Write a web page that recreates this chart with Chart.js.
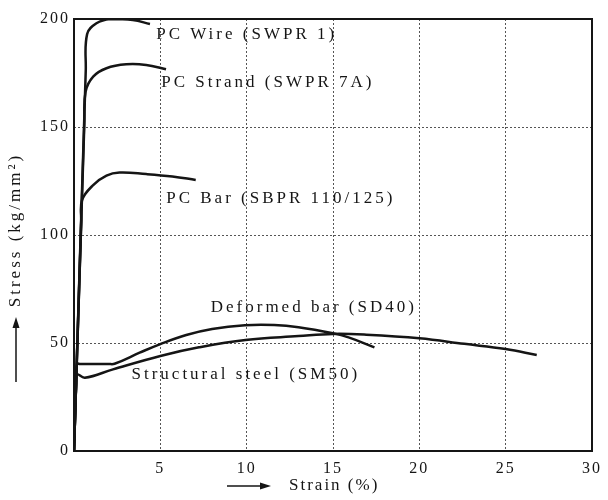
<!DOCTYPE html>
<html>
<head>
<meta charset="utf-8">
<script src="https://cdn.jsdelivr.net/npm/chart.js@4"></script>
<style>
  html, body { margin: 0; padding: 0; background: #fff; }
  #wrap { width: 608px; height: 500px; }
</style>
</head>
<body>
<div id="wrap"><canvas id="ssChart" width="608" height="500"></canvas></div>
<script>
// ── dados (deformação % × tensão kg/mm²) ──────────────────────
const wireStrain   = [0, 0.68, 0.76, 1.3, 2.1, 3.4, 4.4];
const wireStress   = [0, 176, 193, 198, 200, 199.5, 197.7];

const strandStrain = [0, 0.6, 0.67, 1.11, 1.88, 3.03, 4.18, 5.33];
const strandStress = [0, 152, 166.3, 173.3, 177.2, 179, 178.7, 176.7];

const barStrain    = [0, 0.42, 0.47, 1.11, 1.88, 2.64, 4.18, 5.7, 7.05];
const barStress    = [0, 106, 116.2, 123.1, 127.5, 128.9, 128.2, 127.1, 125.5];

const sd40Strain   = [0, 0.14, 0.18, 0.35, 2.0, 2.35, 3.8, 5.0, 6.5, 8.0, 9.9, 11.6, 13.0, 15.0, 15.9, 17.4];
const sd40Stress   = [0, 35, 40.3, 40.3, 40.3, 40.4, 45.5, 49.5, 53.7, 56.5, 58.2, 58.3, 57.3, 54.5, 52.6, 48];

const sm50Strain   = [0, 0.12, 0.16, 0.63, 2.26, 5.0, 7.24, 9.93, 13.0, 15.0, 16.8, 20.0, 22.6, 25.0, 26.8];
const sm50Stress   = [0, 31, 35.5, 33.9, 37.8, 44, 48, 51.4, 53.2, 54.2, 53.9, 52.2, 49.6, 47.2, 44.4];

const xTicks = [0, 5, 10, 15, 20, 25, 30];
const yTicks = [0, 50, 100, 150, 200];

// rótulos das curvas (texto + âncora em coordenadas de dados)
const labelTexts  = ['PC Wire (SWPR 1)', 'PC Strand (SWPR 7A)', 'PC Bar (SBPR 110/125)', 'Deformed bar (SD40)', 'Structural steel (SM50)'];
const labelStrain = [4.76, 5.05, 5.34, 7.92, 3.33];
const labelStress = [192.6, 170.4, 117.1, 66.2, 35.2];

const SERIF = "'Liberation Serif', 'DejaVu Serif', serif";
const INK   = '#151515';

const pts = (xs, ys) => xs.map((x, i) => ({ x, y: ys[i] }));

const curve = data => ({
  data, showLine: true, pointRadius: 0, borderColor: INK, borderWidth: 2.5,
  tension: 0.4, fill: false,
});

// ── plugin: moldura, rótulos e títulos dos eixos ─────────────
const decor = {
  id: 'decor',
  beforeDraw(chart) {
    chart.ctx.letterSpacing = '2px';
  },
  beforeDatasetsDraw(chart) {
    const { ctx, chartArea: a } = chart;
    ctx.save();
    ctx.strokeStyle = INK;
    ctx.lineWidth = 2;
    ctx.strokeRect(a.left, a.top, a.right - a.left, a.bottom - a.top);
    ctx.restore();
  },
  afterDraw(chart) {
    const { ctx, scales: { x, y } } = chart;
    ctx.save();
    ctx.fillStyle = INK;
    ctx.strokeStyle = INK;
    ctx.font = `17px ${SERIF}`;
    ctx.textBaseline = 'middle';
    ctx.textAlign = 'left';

    ctx.letterSpacing = '3px';
    labelTexts.forEach((t, i) => {
      ctx.fillText(t, x.getPixelForValue(labelStrain[i]), y.getPixelForValue(labelStress[i]));
    });

    // eixo x: seta + título
    ctx.letterSpacing = '2px';
    ctx.fillText('Strain (%)', 289, 486);
    ctx.lineWidth = 1.5;
    ctx.beginPath(); ctx.moveTo(227, 486); ctx.lineTo(262, 486); ctx.stroke();
    ctx.beginPath(); ctx.moveTo(271, 486); ctx.lineTo(260, 482.5); ctx.lineTo(260, 489.5); ctx.closePath(); ctx.fill();

    // eixo y: seta + título girado
    ctx.beginPath(); ctx.moveTo(16, 382); ctx.lineTo(16, 326); ctx.stroke();
    ctx.beginPath(); ctx.moveTo(16, 317); ctx.lineTo(12.5, 328); ctx.lineTo(19.5, 328); ctx.closePath(); ctx.fill();

    ctx.translate(16, 230);
    ctx.rotate(-Math.PI / 2);
    ctx.textAlign = 'center';
    ctx.letterSpacing = '3px';
    ctx.fillText('Stress (kg/mm²)', 0, 0);
    ctx.restore();
  },
};

new Chart(document.getElementById('ssChart'), {
  type: 'scatter',
  data: {
    datasets: [
      curve(pts(wireStrain, wireStress)),
      curve(pts(strandStrain, strandStress)),
      curve(pts(barStrain, barStress)),
      curve(pts(sd40Strain, sd40Stress)),
      curve(pts(sm50Strain, sm50Stress)),
    ],
  },
  options: {
    responsive: false, animation: false,
    layout: { padding: { left: 0, right: 11, top: 19, bottom: 0 } },
    plugins: { legend: { display: false }, tooltip: { enabled: false } },
    scales: {
      x: {
        type: 'linear', min: 0, max: 30,
        afterBuildTicks: s => { s.ticks = xTicks.map(v => ({ value: v })); },
        afterFit: s => { s.height = 49; },
        ticks: {
          font: { family: SERIF, size: 16 }, color: INK, padding: 8,
          callback: v => (v === 0 ? '' : v),
        },
        grid: { color: '#555', lineWidth: 1, drawTicks: false },
        border: { display: false, dash: [2, 2] },
      },
      y: {
        type: 'linear', min: 0, max: 200,
        afterBuildTicks: s => { s.ticks = yTicks.map(v => ({ value: v })); },
        afterFit: s => { s.width = 74; },
        ticks: { font: { family: SERIF, size: 16 }, color: INK, padding: 4 },
        grid: { color: '#555', lineWidth: 1, drawTicks: false },
        border: { display: false, dash: [2, 2] },
      },
    },
  },
  plugins: [decor],
});
</script>
</body>
</html>
